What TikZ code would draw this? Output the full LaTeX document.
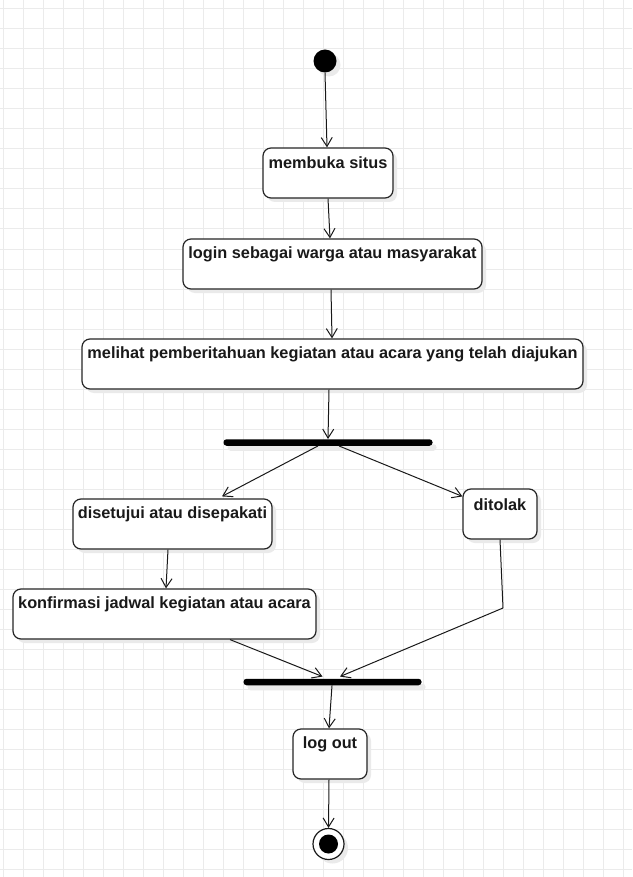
\documentclass[tikz,border=0pt]{standalone}
\usepackage{fontspec}
\setmainfont{Liberation Sans}
\usetikzlibrary{arrows.meta,shadows}
\definecolor{gridc}{RGB}{235,235,235}
\definecolor{shadc}{RGB}{234,234,234}
\begin{document}
\begin{tikzpicture}[x=1pt,y=-1pt,
  box/.style={draw=black!85, line width=1.2pt, rounded corners=8pt, fill=white, inner sep=0pt,
    drop shadow={shadow xshift=4pt, shadow yshift=-4pt, fill=shadc, opacity=1}},
  lbl/.style={font=\bfseries\fontsize{16.3}{19}\selectfont, inner sep=0pt, text=black!90},
  arr/.style={draw=black!90, line width=1pt, -{Straight Barb[length=9pt,width=11pt,line width=1pt]}},
  plain/.style={draw=black!90, line width=1pt},
  bar/.style={fill=black, rounded corners=3pt, inner sep=0pt, minimum height=6.5pt,
    drop shadow={shadow xshift=4pt, shadow yshift=-5pt, fill=shadc, opacity=1}},
]
\useasboundingbox (0,0) rectangle (632,877);
\fill[white] (0,0) rectangle (632,877);
\foreach \x in {3,23,...,623} \draw[gridc, line width=1pt] (\x,0) -- (\x,877);
\foreach \y in {9,29,...,869} \draw[gridc, line width=1pt] (0,\y) -- (632,\y);

% start
\node[circle, fill=black, inner sep=0pt, minimum size=23pt,
  drop shadow={shadow xshift=4pt, shadow yshift=-4pt, fill=shadc, opacity=1}] (start) at (325,61) {};

% boxes
\node[box, minimum width=130pt, minimum height=50pt] (b1) at (328,173) {};
\node[lbl] (t1) at ([yshift=-15.5pt]b1.north) {membuka situs};

\node[box, minimum width=299pt, minimum height=50pt] (b2) at (332.5,264) {};
\node[lbl] (t2) at ([yshift=-16pt]b2.north) {login sebagai warga atau masyarakat};

\node[box, minimum width=501pt, minimum height=50pt] (b3) at (332.5,364) {};
\node[lbl] (t3) at ([yshift=-16pt]b3.north) {melihat pemberitahuan kegiatan atau acara yang telah diajukan};

\node[bar, minimum width=209pt] (bar1) at (328,442.5) {};

\node[box, minimum width=199pt, minimum height=50pt] (b4) at (172.5,524) {};
\node[lbl] (t4) at ([yshift=-16pt]b4.north) {disetujui atau disepakati};

\node[box, minimum width=74pt, minimum height=50pt] (b5) at (500,514) {};
\node[lbl] (t5) at ([yshift=-16pt]b5.north) {ditolak};

\node[box, minimum width=303pt, minimum height=50pt] (b6) at (164.5,614) {};
\node[lbl] (t6) at ([yshift=-16pt]b6.north) {konfirmasi jadwal kegiatan atau acara};

\node[bar, minimum width=178pt] (bar2) at (332.5,682) {};

\node[box, minimum width=74pt, minimum height=50pt] (b7) at (330,754) {};
\node[lbl] (t7) at ([yshift=-16pt]b7.north) {log out};

% end
\node[circle, draw=black!90, line width=1.2pt, fill=white, inner sep=0pt, minimum size=31pt,
  drop shadow={shadow xshift=4pt, shadow yshift=-4pt, fill=shadc, opacity=1}] (endc) at (328.5,844) {};
\node[circle, fill=black, inner sep=0pt, minimum size=19pt] (endin) at (endc.center) {};

% connectors
\draw[arr] (start.south) -- ([xshift=-1pt]b1.north);
\draw[arr] (b1.south) -- ([xshift=-2.5pt]b2.north);
\draw[arr] ([xshift=-1.5pt]b2.south) -- ([xshift=-0.5pt]b3.north);
\draw[arr] ([xshift=-3.5pt]b3.south) -- (bar1.north);
\draw[arr] ([xshift=-10pt]bar1.south) -- ([xshift=49.5pt, yshift=2pt]b4.north);
\draw[arr] ([xshift=11pt]bar1.south) -- ([yshift=-8pt]b5.north west);
\draw[arr] ([xshift=-4.5pt]b4.south) -- ([xshift=1.5pt]b6.north);
\draw[arr] ([xshift=65.5pt]b6.south) -- ([xshift=-10pt, yshift=2pt]bar2.north);
\coordinate (bend) at (503,608);
\draw[plain] (b5.south) -- (bend);
\draw[arr] (bend) -- ([xshift=7.5pt, yshift=2pt]bar2.north);
\draw[arr] ([xshift=-0.5pt]bar2.south) -- ([xshift=-1pt]b7.north);
\draw[arr] ([xshift=-1pt]b7.south) -- (endc.north);
\end{tikzpicture}
\end{document}
